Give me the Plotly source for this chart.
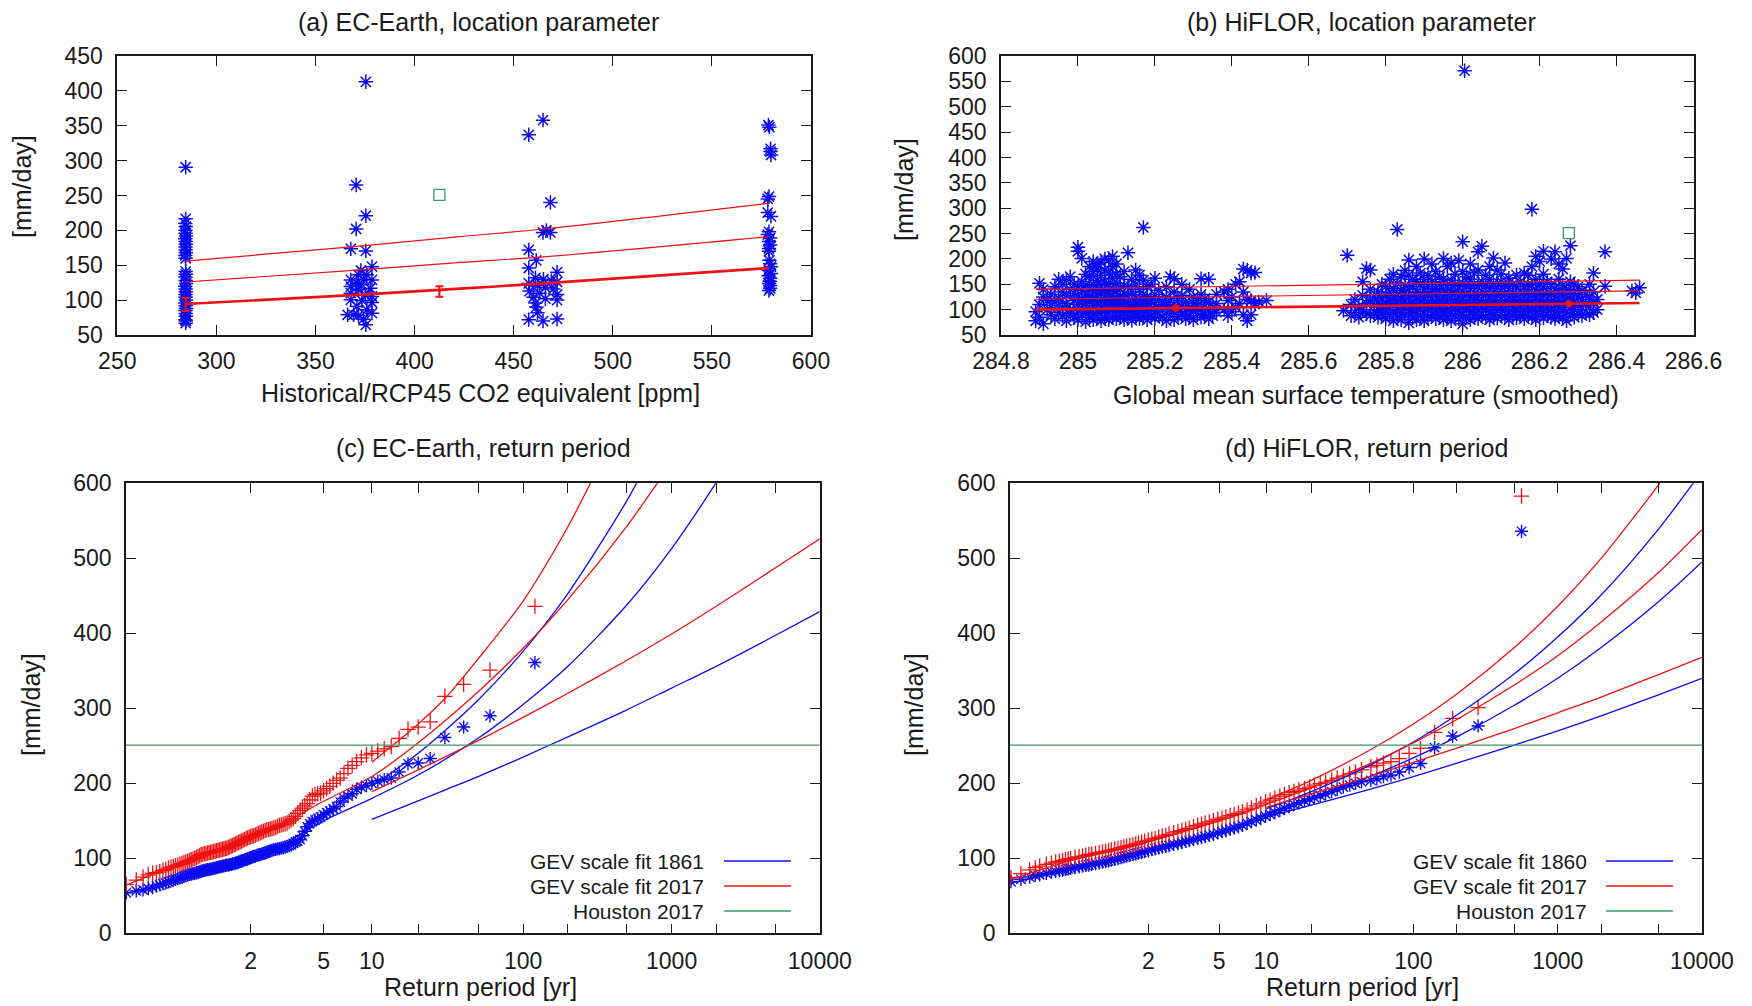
import numpy as np
import plotly.graph_objects as go

# ---------------- (a) EC-Earth: annual max vs CO2 equivalent ----------------
ec_co2 = [
    284.5, 284.5, 284.3, 284.6, 284.4, 284.5, 284.7, 284.3, 284.5, 284.6, 284.4, 284.5,
    284.6, 284.3, 284.5, 284.5, 284.6, 284.4, 284.5, 284.7, 284.3, 284.5, 284.6, 284.4,
    284.5, 284.6, 284.3, 284.5, 284.7, 284.4, 284.5, 284.6, 284.4, 284.5, 284.6,
    375.4, 370.5, 375.4, 370.5, 367.8, 375.4, 378.5, 372.9, 371.7, 375.9, 367.8, 374.2,
    378.5, 370.9, 367.8, 373.4, 377.6, 371.7, 367.8, 375.1, 378.5, 367.8, 373.4, 378.5,
    370.9, 375.9, 366.2, 369.2, 371.7, 378.5, 374.2, 375.4,
    457.6, 464.8, 468.5, 464.8, 468.5, 466.5, 457.6, 461.4, 457.6, 471.9, 461.0, 465.0,
    469.0, 457.6, 471.9, 462.0, 466.0, 470.0, 458.0, 463.0, 471.9, 460.0, 466.0, 471.9,
    461.0, 461.4, 462.0, 457.6, 464.8, 471.9,
    578.5, 579.0, 579.6, 579.6, 579.8, 578.8, 578.2, 578.2, 579.8, 578.8, 578.2, 579.4,
    578.8, 579.4, 578.8, 579.0, 579.4, 579.8, 578.8, 579.8, 579.4, 578.8, 579.4, 578.8,
    578.8, 579.2, 578.6, 579.4,
]
ec_rx = [
    290.5, 216.5, 210, 205.5, 200, 196, 192, 188, 184, 180, 176, 172,
    168, 164, 160, 141, 137, 133, 128, 124, 120, 116, 112, 108,
    104, 100, 96, 92, 88, 85, 81, 77, 72, 67, 70,
    413, 265, 221, 202, 173.5, 170.6, 148, 142.5, 136.3, 136.3, 129, 130,
    129, 124.3, 119.5, 122, 117, 114.8, 110, 107.6, 105.2, 100.4, 99.5, 96.6,
    90.9, 86.1, 79, 79, 78, 81.3, 72.7, 64.6,
    337, 358, 240, 197, 197, 200, 172, 157, 146, 140, 132, 130,
    128, 124, 126, 121, 118, 116, 113, 110, 108, 104, 102, 100,
    96, 90, 82, 72, 70, 73,
    351, 348, 317, 313, 308, 248.5, 245, 225.6, 220, 198, 194, 189,
    184, 179, 174, 157, 152, 148, 143, 138, 131.5, 124, 117, 113.8,
    170, 127, 135, 121,
]
ec_fit_co2 = [284.5, 371, 423, 465, 579]
ec_fit_hi = [156, 177, 191, 202, 239]
ec_fit_mid = [126, 143, 154, 162, 191]
ec_fit_lo = [94.5, 107.5, 116.5, 124, 146]
ec_err_co2 = [284.5, 412.5]
ec_err_mu = [94.5, 113]
ec_err_plus = [9, 7]
ec_err_minus = [10, 8]
ec_houston_co2 = [412.5]
houston_rx = [251]

# ---------------- (b) HiFLOR: annual max vs smoothed GMST ----------------
hf_gmst = [
    284.89, 284.90, 284.91, 284.92, 284.93, 284.94, 284.95, 284.96, 284.97, 284.98, 284.99,
    285.00, 285.01, 285.02, 285.03, 285.04, 285.05, 285.06, 285.07, 285.08, 285.09, 285.10,
    285.11, 285.12, 285.13, 285.14, 285.15, 285.16, 285.17, 285.18, 285.19, 285.20, 285.21,
    285.22, 285.23, 285.24, 285.25, 285.26, 285.27, 285.28, 285.29, 285.30, 285.31, 285.32,
    285.33, 285.34, 285.35, 285.36, 285.38, 285.39, 285.40, 285.41, 285.42, 285.43, 285.44,
    285.45, 285.46, 285.47, 285.49,
    285.69, 285.70, 285.71, 285.72, 285.73, 285.74, 285.75, 285.76, 285.77, 285.78, 285.79,
    285.80, 285.81, 285.82, 285.83, 285.84, 285.85, 285.86, 285.87, 285.88, 285.89, 285.90,
    285.91, 285.92, 285.93, 285.94, 285.95, 285.96, 285.97, 285.98, 285.99, 286.00, 286.005,
    286.01, 286.02, 286.03, 286.04, 286.05, 286.06, 286.07, 286.08, 286.09, 286.10, 286.11,
    286.12, 286.13, 286.14, 286.15, 286.16, 286.17, 286.18, 286.19, 286.20, 286.21, 286.22,
    286.23, 286.24, 286.25, 286.26, 286.27, 286.28, 286.29, 286.30, 286.31, 286.32, 286.33,
    286.34, 286.35, 286.37, 286.44, 286.45, 286.46,
]
hf_rx = [
    [78, 96], [85, 110, 152], [72, 125, 140], [100, 118], [90, 108, 130], [82, 115, 145],
    [95, 122, 160], [88, 105, 135, 150], [78, 112, 128, 158], [92, 100, 140, 165],
    [85, 118, 132, 150],
    [80, 98, 110, 125, 145, 215, 223], [90, 103, 120, 138, 155, 201],
    [76, 95, 112, 130, 148, 170], [85, 100, 117, 126, 142, 165, 185],
    [80, 92, 108, 122, 135, 150, 175, 195], [88, 97, 115, 128, 140, 158, 182, 190],
    [78, 93, 105, 118, 132, 147, 168, 193], [84, 99, 111, 124, 138, 155, 178, 200],
    [80, 95, 107, 120, 133, 150, 172, 198], [86, 101, 114, 127, 140, 162, 185, 205],
    [82, 96, 109, 121, 136, 152, 170, 190],
    [88, 98, 112, 125, 142, 165], [80, 94, 106, 119, 131, 148, 175],
    [85, 100, 113, 128, 145, 212], [79, 92, 104, 117, 135, 160],
    [86, 98, 110, 123, 150, 178], [82, 95, 108, 120, 140, 168],
    [88, 102, 115, 130, 158, 262], [80, 97, 112, 126, 145], [86, 100, 118, 150],
    [83, 96, 110, 130, 162], [90, 105, 120, 138],
    [85, 100, 115], [78, 108, 125, 145], [92, 104, 118, 165], [80, 98, 110, 135, 161],
    [86, 101, 122], [90, 108, 128, 150], [82, 96, 115], [88, 104, 140],
    [80, 99, 112, 125], [93, 106, 118], [85, 100, 130, 161],
    [90, 110, 122], [82, 97, 115, 160], [88, 104], [95, 112, 130], [100, 135],
    [88, 118, 140], [96, 125], [105, 150], [112, 155], [90, 135, 180], [78, 120, 178],
    [90, 118, 172], [112, 173], [115], [118],
    [98], [207], [88, 110], [95, 120], [85, 105], [100, 128, 155], [92, 112, 181],
    [88, 118, 140, 178], [95, 108, 125], [85, 100, 115, 135], [92, 106, 122, 150],
    [82, 98, 112, 128, 145], [90, 104, 118, 135, 160], [78, 95, 110, 125, 142, 170],
    [86, 100, 115, 130, 152, 258], [80, 93, 108, 122, 138, 165],
    [88, 102, 117, 132, 148, 177], [74, 95, 110, 125, 140, 168, 198],
    [85, 100, 113, 128, 145, 160], [80, 92, 106, 120, 135, 155, 185],
    [88, 103, 118, 132, 150, 172], [78, 96, 110, 124, 140, 160, 200],
    [85, 100, 115, 130, 146, 168], [90, 105, 120, 136, 155, 190],
    [82, 97, 112, 127, 142, 175], [88, 102, 118, 133, 150, 165],
    [80, 95, 110, 125, 140, 160, 201], [86, 100, 115, 130, 148, 185],
    [78, 93, 108, 122, 138, 158, 192], [88, 103, 118, 134, 150, 170],
    [82, 97, 112, 127, 145, 197], [72, 90, 105, 120, 135, 152, 175, 234], [571],
    [85, 100, 115, 130, 148, 165], [80, 95, 110, 125, 142, 160, 190],
    [88, 103, 118, 132, 150, 172], [82, 97, 112, 128, 145, 178, 214],
    [90, 105, 120, 135, 155, 225], [85, 100, 115, 130, 148, 168],
    [80, 95, 110, 126, 142, 160, 185], [88, 103, 118, 134, 152, 202],
    [83, 98, 113, 128, 145, 178], [90, 105, 120, 136, 155, 170],
    [85, 100, 115, 130, 148, 192],
    [80, 96, 111, 126, 142, 162], [88, 103, 118, 133, 150], [84, 99, 114, 129, 146, 168],
    [90, 105, 120, 135, 155], [82, 97, 112, 127, 145, 172], [88, 102, 118, 133, 150, 168],
    [85, 100, 115, 130, 148, 185, 298], [80, 96, 110, 125, 140, 160, 205],
    [88, 103, 118, 133, 152, 195], [84, 98, 113, 128, 145, 170, 215],
    [90, 105, 120, 135, 155],
    [85, 100, 115, 130, 150, 200], [82, 96, 111, 126, 142, 214],
    [88, 103, 118, 133, 160, 190], [85, 100, 115, 130, 148, 180],
    [78, 95, 108, 122, 140, 201], [90, 105, 120, 136, 155, 226],
    [85, 100, 115, 132, 150], [92, 108, 125, 145], [88, 105, 120, 138], [95, 112, 130],
    [90, 108, 125, 150],
    [94, 115, 135, 172], [100, 120], [146, 214], [137], [133], [143],
]
hf_fit_gmst = [284.89, 286.46]
hf_fit_hi = [140, 158]
hf_fit_mid = [120.5, 137]
hf_fit_lo = [100, 113]
hf_err_gmst = [285.254, 286.276]
hf_err_mu = [103, 111.5]
hf_houston_gmst = [286.276]

# ---------------- (c) EC-Earth return periods ----------------
ec_T = [
    120, 60, 40, 30, 24, 20, 17.14, 15, 13.33, 12,
    10.91, 10, 9.231, 8.571, 8, 7.5, 7.059, 6.667, 6.316, 6,
    5.714, 5.455, 5.217, 5, 4.8, 4.615, 4.444, 4.286, 4.138, 4,
    3.871, 3.75, 3.636, 3.529, 3.429, 3.333, 3.243, 3.158, 3.077, 3,
    2.927, 2.857, 2.791, 2.727, 2.667, 2.609, 2.553, 2.5, 2.449, 2.4,
    2.353, 2.308, 2.264, 2.222, 2.182, 2.143, 2.105, 2.069, 2.034, 2,
    1.967, 1.935, 1.905, 1.875, 1.846, 1.818, 1.791, 1.765, 1.739, 1.714,
    1.690, 1.667, 1.644, 1.622, 1.6, 1.579, 1.558, 1.538, 1.519, 1.5,
    1.481, 1.463, 1.446, 1.429, 1.412, 1.395, 1.379, 1.364, 1.348, 1.333,
    1.319, 1.304, 1.290, 1.277, 1.263, 1.25, 1.237, 1.224, 1.212, 1.2,
    1.188, 1.176, 1.165, 1.154, 1.143, 1.132, 1.121, 1.111, 1.101, 1.091,
    1.081, 1.0714, 1.0619, 1.0526, 1.0435, 1.0345, 1.0256, 1.0169, 1.0084,
]
ec_rx_1861 = [
    361, 290, 275, 261, 233, 227, 226, 215, 207, 205,
    203, 200, 197, 195, 192, 186, 183, 180, 175, 169,
    166, 163, 161, 158, 155, 153, 151, 149, 146, 142,
    136, 130, 125, 123, 122, 120, 118, 117, 116, 115,
    114, 113.5, 113, 112.5, 112, 111.5, 111, 110, 109, 108,
    107, 106.5, 106, 105, 104.5, 104, 103, 102.5, 102, 101,
    100, 99, 98.5, 98, 97, 96.5, 96, 95, 94, 93.5,
    93, 92.5, 92, 91.5, 91, 91, 90.5, 90, 89.5, 89,
    88.5, 88, 87.5, 87, 86.5, 86, 85.5, 85, 85, 84.5,
    84, 83.5, 83, 82, 81, 80.5, 80, 79.5, 79, 78.5,
    78, 77, 76, 75, 74, 73, 72, 71, 70, 68.5,
    67, 66, 64.5, 63, 61, 59.5, 58, 56.5, 54,
]
ec_rx_2017 = [
    436, 351, 332, 316, 282, 275, 272, 260, 249, 246,
    243, 240, 238, 234, 229, 224, 220, 213, 207, 204,
    200, 196, 193, 190, 187, 186, 185, 183, 178, 173,
    170, 167, 164, 160, 156, 153, 151, 149, 147, 146,
    145.5, 144.5, 144, 142.5, 141.5, 140.5, 139.5, 139, 138.5, 138,
    137, 136, 135, 134, 133, 132, 131, 130, 129.5, 129,
    128, 127, 126, 125, 124, 123, 122, 121, 120, 119,
    118, 117, 116.5, 115.5, 114.5, 113.5, 113, 112.5, 112, 111.5,
    111, 110.5, 110, 109.5, 109, 108.5, 108, 107.5, 107, 106.5,
    106, 105.5, 105, 103.5, 102, 101, 100, 99, 98, 97,
    96, 95, 94, 93, 92, 91, 90, 89, 88, 87,
    85, 84, 82, 81, 80, 78, 75, 71, 65,
]
ec_gev_1861_T = [1.008, 1.1, 1.5, 2, 3, 4, 5, 10, 20, 50, 100, 200, 500, 1000, 2000, 2500]
ec_gev_1861 = [53, 68, 85, 100, 120, 138, 150, 180, 211, 260, 305, 356, 438, 513, 601, 632]
ec_gev_1861_hi_T = [10, 20, 30, 50, 100, 200, 500, 700]
ec_gev_1861_hi = [196, 240, 270, 311, 376, 453, 577, 631]
ec_gev_1861_lo_T = [10, 20, 30, 50, 100, 200, 500, 1000, 2000, 5000, 10000]
ec_gev_1861_lo = [152, 176.5, 191, 209, 235, 262, 298, 327, 356, 397, 429]
ec_gev_2017_T = [1.008, 1.1, 1.5, 2, 3, 5, 10, 20, 50, 100, 200, 500, 1000]
ec_gev_2017 = [64, 88, 110, 126, 148, 176, 209, 254, 322, 380, 445, 543, 628]
ec_gev_2017_hi_T = [10, 20, 30, 50, 100, 200, 300]
ec_gev_2017_hi = [228, 279, 313, 366, 443, 542, 610]
ec_gev_2017_lo_T = [10, 20, 50, 100, 200, 500, 1000, 2000, 5000, 10000]
ec_gev_2017_lo = [189, 218, 257, 288, 320, 364, 399, 436, 487, 526]

# ---------------- (d) HiFLOR return periods ----------------
hf_T = [
    1.002, 1.005, 1.01, 1.015, 1.02, 1.03, 1.04, 1.05, 1.06, 1.07,
    1.08, 1.09, 1.1, 1.12, 1.14, 1.16, 1.18, 1.2, 1.22, 1.25,
    1.28, 1.31, 1.34, 1.37, 1.4, 1.44, 1.48, 1.52, 1.56, 1.6,
    1.65, 1.7, 1.75, 1.8, 1.86, 1.92, 2.0, 2.08, 2.16, 2.25,
    2.35, 2.45, 2.55, 2.7, 2.85, 3.0, 3.15, 3.3, 3.5, 3.7,
    3.9, 4.1, 4.35, 4.6, 4.9, 5.2, 5.5, 5.85, 6.2, 6.6,
    7.0, 7.5, 8.0, 8.6, 9.2, 9.9, 10.6, 11.4, 12.3, 13.2,
    14.2, 15.3, 16.5, 18, 19.5, 21, 23, 25, 27.5, 30,
    33, 36.5, 40, 44, 51, 56.1, 62.3, 70.1, 80.1, 93.5,
    112.2, 140.25, 187, 280.5, 561,
]
hf_rx_1860 = [
    69, 72, 75, 77, 78, 80, 81.5, 82.5, 83.5, 84,
    85, 86, 86.5, 87.5, 88.5, 89.5, 90.5, 91, 92, 93,
    94, 95, 95.5, 96.5, 97.5, 98.5, 99.5, 101, 102, 103,
    104, 105, 106, 107, 108, 109, 110, 111.5, 112.5, 113.5,
    115, 116, 117, 118.5, 119.5, 121, 122.5, 123.5, 125, 126.5,
    127.5, 129, 130.5, 132, 134, 135.5, 137, 139, 140.5, 142,
    144, 146.5, 149, 151, 153.5, 156, 158.5, 161, 164, 166.5,
    169, 172, 174, 176.5, 179, 181, 183.5, 186, 189, 192,
    195, 197.5, 200, 202, 204, 206, 209, 211, 215, 221,
    226.5, 247.5, 263, 276.5, 536,
]
hf_rx_2017 = [
    74.5, 79.5, 84.5, 87.5, 89.5, 92, 93.5, 95, 96, 97,
    98, 99, 99.5, 101, 102, 103, 104, 105, 105.5, 106.5,
    107.5, 108.5, 109, 110, 111, 112, 113, 114, 115, 116,
    117, 118, 119, 120, 121.5, 122.5, 124, 125.5, 126.5, 128,
    129.5, 130.5, 132, 134, 135.5, 137, 138.5, 140, 142, 144,
    145.5, 147, 148.5, 150, 152, 153.5, 155, 157, 158.5, 160,
    162, 164.5, 167, 170, 172.5, 175, 177.5, 180, 183, 185,
    187.5, 189, 191, 193, 195, 197.5, 199.5, 201.5, 204, 207,
    209.5, 212.5, 215, 218, 222, 224, 227, 229, 233, 240,
    246.5, 268, 286.5, 301, 583,
]
hf_gev_1860_T = [1.002, 1.1, 1.5, 2, 3, 5, 10, 20, 50, 100, 200, 500, 1000, 2000, 5000, 10000]
hf_gev_1860 = [67, 85, 99, 108, 120, 134, 160, 180, 209, 234, 262, 304, 340, 381, 442, 495]
hf_gev_1860_hi_T = [10, 20, 50, 100, 200, 500, 1000, 2000, 5000, 10000]
hf_gev_1860_hi = [166, 189, 224, 255, 291, 346, 395, 451, 539, 616]
hf_gev_1860_lo_T = [10, 20, 50, 100, 200, 500, 1000, 2000, 5000, 10000]
hf_gev_1860_lo = [155, 171, 192, 209, 227, 251, 270, 290, 318, 340]
hf_gev_2017_T = [1.002, 1.1, 1.5, 2, 3, 5, 10, 20, 50, 100, 200, 500, 1000, 2000, 5000, 10000]
hf_gev_2017 = [72, 97, 112, 122, 135, 150, 172, 194, 226, 254, 285, 331, 370, 415, 481, 538]
hf_gev_2017_hi_T = [10, 20, 50, 100, 200, 500, 1000, 2000, 5000, 6000]
hf_gev_2017_hi = [178, 204, 244, 279, 319, 381, 436, 500, 598, 620]
hf_gev_2017_lo_T = [10, 20, 50, 100, 200, 500, 1000, 2000, 5000, 10000]
hf_gev_2017_lo = [168, 186, 209, 228, 247, 273, 294, 315, 345, 368]

rp_ticks = [2, 5, 10, 20, 50, 100, 200, 500, 1000, 2000, 5000, 10000]
rp_ticktext = ["2", "5", "10", "", "", "100", "", "", "1000", "", "", "10000"]
houston_2017 = 251

BLUE = "#0b0bf0"
RED = "#ee1111"
GREEN = "#3c9a6c"
INK = "#1a1a1a"
FONT = "Liberation Sans, Arial, sans-serif"
W, H = 1752, 1006


def gumbel(T):
    # Gumbel reduced variate used as the return-period axis
    T = np.asarray(T, dtype=float)
    return -np.log(-np.log(1.0 - 1.0 / T))


def px(x):
    return x / W


def py(y):
    return 1 - y / H


fig = go.Figure()

star = dict(symbol="asterisk-open", size=12, line=dict(color=BLUE, width=1.5), color=BLUE)
plus = dict(symbol="cross-thin-open", size=11, line=dict(color=RED, width=1.3), color=RED)
square = dict(symbol="square-open", size=11, line=dict(color=GREEN, width=1.3), color=GREEN)

# (a)
fig.add_trace(go.Scatter(x=ec_co2, y=ec_rx, mode="markers", marker=star, xaxis="x", yaxis="y"))
for vals, w in [(ec_fit_hi, 1.2), (ec_fit_mid, 1.2), (ec_fit_lo, 2.6)]:
    fig.add_trace(go.Scatter(x=ec_fit_co2, y=vals, mode="lines", line=dict(color=RED, width=w, shape="spline"),
                             xaxis="x", yaxis="y"))
fig.add_trace(go.Scatter(x=ec_err_co2, y=ec_err_mu, mode="markers", marker=dict(size=3, color=RED),
                         error_y=dict(type="data", symmetric=False, array=ec_err_plus, arrayminus=ec_err_minus,
                                      color=RED, thickness=2, width=4),
                         xaxis="x", yaxis="y"))
fig.add_trace(go.Scatter(x=ec_houston_co2, y=houston_rx, mode="markers", marker=square, xaxis="x", yaxis="y"))

# (b)
hf_x, hf_y = [], []
for g, ys in zip(hf_gmst, hf_rx):
    for v in ys:
        hf_x.append(g)
        hf_y.append(v)
fig.add_trace(go.Scatter(x=hf_x, y=hf_y, mode="markers", marker=star, xaxis="x2", yaxis="y2"))
for vals, w in [(hf_fit_hi, 1.2), (hf_fit_mid, 1.2), (hf_fit_lo, 2.6)]:
    fig.add_trace(go.Scatter(x=hf_fit_gmst, y=vals, mode="lines", line=dict(color=RED, width=w),
                             xaxis="x2", yaxis="y2"))
fig.add_trace(go.Scatter(x=hf_err_gmst, y=hf_err_mu, mode="markers",
                         marker=dict(symbol="diamond", size=7, color=RED),
                         error_y=dict(type="constant", value=4, color=RED, thickness=2, width=3),
                         xaxis="x2", yaxis="y2"))
fig.add_trace(go.Scatter(x=hf_houston_gmst, y=houston_rx, mode="markers", marker=square, xaxis="x2", yaxis="y2"))

# (c) and (d)
panels = [
    ("x3", "y3", ec_T, ec_rx_1861, ec_rx_2017,
     [(ec_gev_1861_T, ec_gev_1861, BLUE), (ec_gev_1861_hi_T, ec_gev_1861_hi, BLUE),
      (ec_gev_1861_lo_T, ec_gev_1861_lo, BLUE), (ec_gev_2017_T, ec_gev_2017, RED),
      (ec_gev_2017_hi_T, ec_gev_2017_hi, RED), (ec_gev_2017_lo_T, ec_gev_2017_lo, RED)]),
    ("x4", "y4", hf_T, hf_rx_1860, hf_rx_2017,
     [(hf_gev_1860_T, hf_gev_1860, BLUE), (hf_gev_1860_hi_T, hf_gev_1860_hi, BLUE),
      (hf_gev_1860_lo_T, hf_gev_1860_lo, BLUE), (hf_gev_2017_T, hf_gev_2017, RED),
      (hf_gev_2017_hi_T, hf_gev_2017_hi, RED), (hf_gev_2017_lo_T, hf_gev_2017_lo, RED)]),
]
for xa, ya, T, old, new, curves in panels:
    fig.add_trace(go.Scatter(x=gumbel(T), y=old, mode="markers",
                             marker=dict(star, size=11, line=dict(color=BLUE, width=1.4)),
                             xaxis=xa, yaxis=ya))
    fig.add_trace(go.Scatter(x=gumbel(T), y=new, mode="markers",
                             marker=dict(plus, size=11), xaxis=xa, yaxis=ya))
    for cT, cv, col in curves:
        fig.add_trace(go.Scatter(x=gumbel(cT), y=cv, mode="lines",
                                 line=dict(color=col, width=1.3, shape="spline", smoothing=0.8),
                                 xaxis=xa, yaxis=ya))
    fig.add_shape(type="line", xref=f"{xa} domain", yref=ya, x0=0, x1=1,
                  y0=houston_2017, y1=houston_2017, line=dict(color=GREEN, width=1.3))

axis_common = dict(showline=True, linecolor=INK, linewidth=1.6, mirror="allticks", ticks="inside",
                   ticklen=10, tickwidth=1.3, tickcolor=INK, showgrid=False, zeroline=False,
                   automargin=False, tickfont=dict(family=FONT, size=23, color=INK))

dom_a = [px(117.3), px(811)]
dom_b = [px(1001), px(1693.5)]
dom_c = [px(126), px(819.8)]
dom_d = [px(1010), px(1701.9)]
dom_top = [py(335), py(56)]
dom_bot = [py(933.3), py(483.3)]

rp_tickvals = list(gumbel(rp_ticks))
g_max = float(gumbel([10000])[0])

fig.update_layout(
    width=W, height=H, margin=dict(l=0, r=0, t=0, b=0, pad=0), template="none",
    paper_bgcolor="white", plot_bgcolor="white", showlegend=False,
    xaxis=dict(axis_common, domain=dom_a, range=[250, 600], dtick=50, tick0=250,
               anchor="y", ticklabelstandoff=5),
    yaxis=dict(axis_common, domain=dom_top, range=[50, 450], dtick=50, tick0=50,
               anchor="x", ticklabelstandoff=8),
    xaxis2=dict(axis_common, domain=dom_b, range=[284.8, 286.6],
                tickvals=[284.8, 285.0, 285.2, 285.4, 285.6, 285.8, 286.0, 286.2, 286.4, 286.6],
                ticktext=["284.8", "285", "285.2", "285.4", "285.6", "285.8", "286", "286.2", "286.4", "286.6"],
                anchor="y2", ticklabelstandoff=5),
    yaxis2=dict(axis_common, domain=dom_top, range=[50, 600], dtick=50, tick0=50,
                anchor="x2", ticklabelstandoff=8),
    xaxis3=dict(axis_common, domain=dom_c, range=[-1.57, g_max], tickvals=rp_tickvals,
                ticktext=rp_ticktext, anchor="y3", ticklabelstandoff=6),
    yaxis3=dict(axis_common, domain=dom_bot, range=[0, 600], dtick=100, tick0=0,
                anchor="x3", ticklabelstandoff=8),
    xaxis4=dict(axis_common, domain=dom_d, range=[-1.843, g_max], tickvals=rp_tickvals,
                ticktext=rp_ticktext, anchor="y4", ticklabelstandoff=6),
    yaxis4=dict(axis_common, domain=dom_bot, range=[0, 600], dtick=100, tick0=0,
                anchor="x4", ticklabelstandoff=8),
)


def label(x, y, text, size=25, angle=0, xanchor="center"):
    fig.add_annotation(x=px(x), y=py(y), xref="paper", yref="paper", text=text, showarrow=False,
                       textangle=angle, xanchor=xanchor, yanchor="middle",
                       font=dict(family=FONT, size=size, color=INK))


label(478, 22, "(a) EC-Earth, location parameter")
label(1361, 22, "(b) HiFLOR, location parameter")
label(483, 448, "(c) EC-Earth, return period")
label(1366, 448, "(d) HiFLOR, return period")
label(480, 393, "Historical/RCP45 CO2 equivalent [ppm]")
label(1366, 395, "Global mean surface temperature (smoothed)")
label(480, 987, "Return period [yr]")
label(1362, 987, "Return period [yr]")
label(22, 187, "[mm/day]", angle=-90)
label(904, 190, "[mm/day]", angle=-90)
label(31, 705, "[mm/day]", angle=-90)
label(914, 705, "[mm/day]", angle=-90)

# gnuplot-style key: text right-aligned, sample line to its right
keys = [
    (706, 724, 791, ["GEV scale fit 1861", "GEV scale fit 2017", "Houston 2017"]),
    (1589, 1606, 1673, ["GEV scale fit 1860", "GEV scale fit 2017", "Houston 2017"]),
]
for tx, l0, l1, names in keys:
    for row_y, name, col in zip([861, 886, 911], names, [BLUE, RED, GREEN]):
        label(tx, row_y, name, size=21, xanchor="right")
        fig.add_shape(type="line", xref="paper", yref="paper", x0=px(l0), x1=px(l1),
                      y0=py(row_y), y1=py(row_y), line=dict(color=col, width=1.3))

# the page body has a default margin; remove it so the figure sits flush in the window
fig.write_html("out.html", config={"displayModeBar": False},
               post_script="document.body.style.margin='0';document.body.style.overflow='hidden';")
